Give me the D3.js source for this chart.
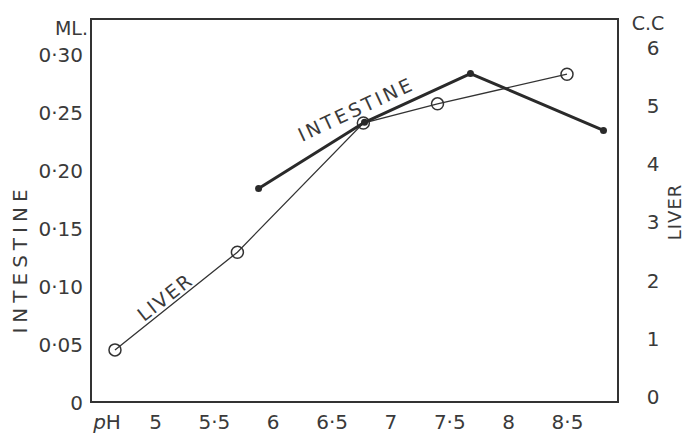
<!DOCTYPE html>
<html>
<head>
<meta charset="utf-8">
<script src="https://cdn.jsdelivr.net/npm/d3@7"></script>
<style>
  body { margin: 0; background: #fff; }
  svg text { font-family: "DejaVu Sans", sans-serif; fill: #3a3a3a; }
</style>
</head>
<body>
<div id="chart"></div>
<script>
// pH values and readings
var intestinePH = [5.88, 6.78, 7.68, 8.81];
var intestineML = [0.185, 0.242, 0.284, 0.235];
var liverPH = [4.66, 5.70, 6.77, 7.40, 8.50];
var liverCC = [0.81, 2.49, 4.71, 5.04, 5.55];

var phTicks = [5, 5.5, 6, 6.5, 7, 7.5, 8, 8.5];
var mlTicks = [0, 0.05, 0.10, 0.15, 0.20, 0.25, 0.30];
var ccTicks = [0, 1, 2, 3, 4, 5, 6];

(function (selector) {
    var svg = d3.select(selector).append("svg")
        .attr("width", 686)
        .attr("height", 438);

    var frame = { left: 91, right: 618, top: 19, bottom: 402 };

    var x = d3.scaleLinear().domain([5, 8.5]).range([155, 567]);
    var yL = d3.scaleLinear().domain([0, 0.30]).range([403, 55]);
    var yR = d3.scaleLinear().domain([0, 6]).range([397, 48]);

    var fmt = function (d) {
        if (d === 0) return "0";
        return (d % 1 === 0 ? String(d) : d3.format(d < 1 ? ".2f" : ".1f")(d)).replace(".", "\u00b7");
    };

    // frame
    svg.append("rect")
        .attr("x", frame.left)
        .attr("y", frame.top)
        .attr("width", frame.right - frame.left)
        .attr("height", frame.bottom - frame.top)
        .attr("fill", "none")
        .attr("stroke", "#333")
        .attr("stroke-width", 2);

    // left axis
    var left = svg.append("g")
        .attr("transform", "translate(" + frame.left + ",0)")
        .call(d3.axisLeft(yL).tickValues(mlTicks).tickSize(0).tickPadding(8).tickFormat(fmt));
    left.select(".domain").remove();
    left.selectAll("text").attr("font-size", 20).attr("font-family", "DejaVu Sans").attr("fill", "#3a3a3a");

    // right axis
    var right = svg.append("g")
        .attr("transform", "translate(" + frame.right + ",0)")
        .call(d3.axisRight(yR).tickValues(ccTicks).tickSize(0).tickPadding(35).tickFormat(fmt));
    right.select(".domain").remove();
    right.selectAll("text").attr("font-size", 20).attr("text-anchor", "middle")
        .attr("font-family", "DejaVu Sans").attr("fill", "#3a3a3a");

    // bottom axis
    var bottom = svg.append("g")
        .attr("transform", "translate(0," + frame.bottom + ")")
        .call(d3.axisBottom(x).tickValues(phTicks).tickSize(0).tickPadding(13).tickFormat(fmt));
    bottom.select(".domain").remove();
    bottom.selectAll("text").attr("font-size", 20).attr("font-family", "DejaVu Sans").attr("fill", "#3a3a3a");

    // unit labels
    var pH = svg.append("text")
        .attr("x", 107).attr("y", 429)
        .attr("text-anchor", "middle")
        .attr("font-size", 20);
    pH.append("tspan").attr("font-style", "italic").text("p");
    pH.append("tspan").text("H");

    svg.append("text").attr("x", 88).attr("y", 35)
        .attr("text-anchor", "end").attr("font-size", 19).text("ML.");
    svg.append("text").attr("x", 648).attr("y", 30)
        .attr("text-anchor", "middle").attr("font-size", 19).text("C.C");

    // side titles
    svg.append("text")
        .attr("transform", "translate(20,259) rotate(-90)")
        .attr("text-anchor", "middle").attr("dominant-baseline", "central")
        .attr("font-size", 20).attr("letter-spacing", 5)
        .text("INTESTINE");
    svg.append("text")
        .attr("transform", "translate(674,212) rotate(-90)")
        .attr("text-anchor", "middle").attr("dominant-baseline", "central")
        .attr("font-size", 18).attr("letter-spacing", 1)
        .text("LIVER");

    var intestine = intestinePH.map(function (p, i) { return { x: p, y: intestineML[i] }; });
    var liver = liverPH.map(function (p, i) { return { x: p, y: liverCC[i] }; });

    // liver: thin line, open circles
    svg.append("path")
        .datum(liver)
        .attr("fill", "none")
        .attr("stroke", "#333")
        .attr("stroke-width", 1.3)
        .attr("d", d3.line().x(function (d) { return x(d.x); }).y(function (d) { return yR(d.y); }));
    svg.selectAll("circle.liver")
        .data(liver)
        .enter().append("circle")
        .attr("class", "liver")
        .attr("cx", function (d) { return x(d.x); })
        .attr("cy", function (d) { return yR(d.y); })
        .attr("r", 6)
        .attr("fill", "none")
        .attr("stroke", "#333")
        .attr("stroke-width", 1.5);

    // intestine: thick line, small dots
    svg.append("path")
        .datum(intestine)
        .attr("fill", "none")
        .attr("stroke", "#2a2a2a")
        .attr("stroke-width", 3)
        .attr("stroke-linejoin", "round")
        .attr("d", d3.line().x(function (d) { return x(d.x); }).y(function (d) { return yL(d.y); }));
    svg.selectAll("circle.intestine")
        .data(intestine)
        .enter().append("circle")
        .attr("class", "intestine")
        .attr("cx", function (d) { return x(d.x); })
        .attr("cy", function (d) { return yL(d.y); })
        .attr("r", 3.5)
        .attr("fill", "#2a2a2a");

    // in-plot curve labels
    svg.append("text")
        .attr("transform", "translate(165,297) rotate(-38)")
        .attr("text-anchor", "middle").attr("dominant-baseline", "central")
        .attr("font-size", 19).attr("letter-spacing", 2)
        .text("LIVER");
    svg.append("text")
        .attr("transform", "translate(356,109) rotate(-25)")
        .attr("text-anchor", "middle").attr("dominant-baseline", "central")
        .attr("font-size", 19).attr("letter-spacing", 3)
        .text("INTESTINE");
})("#chart");
</script>
</body>
</html>
